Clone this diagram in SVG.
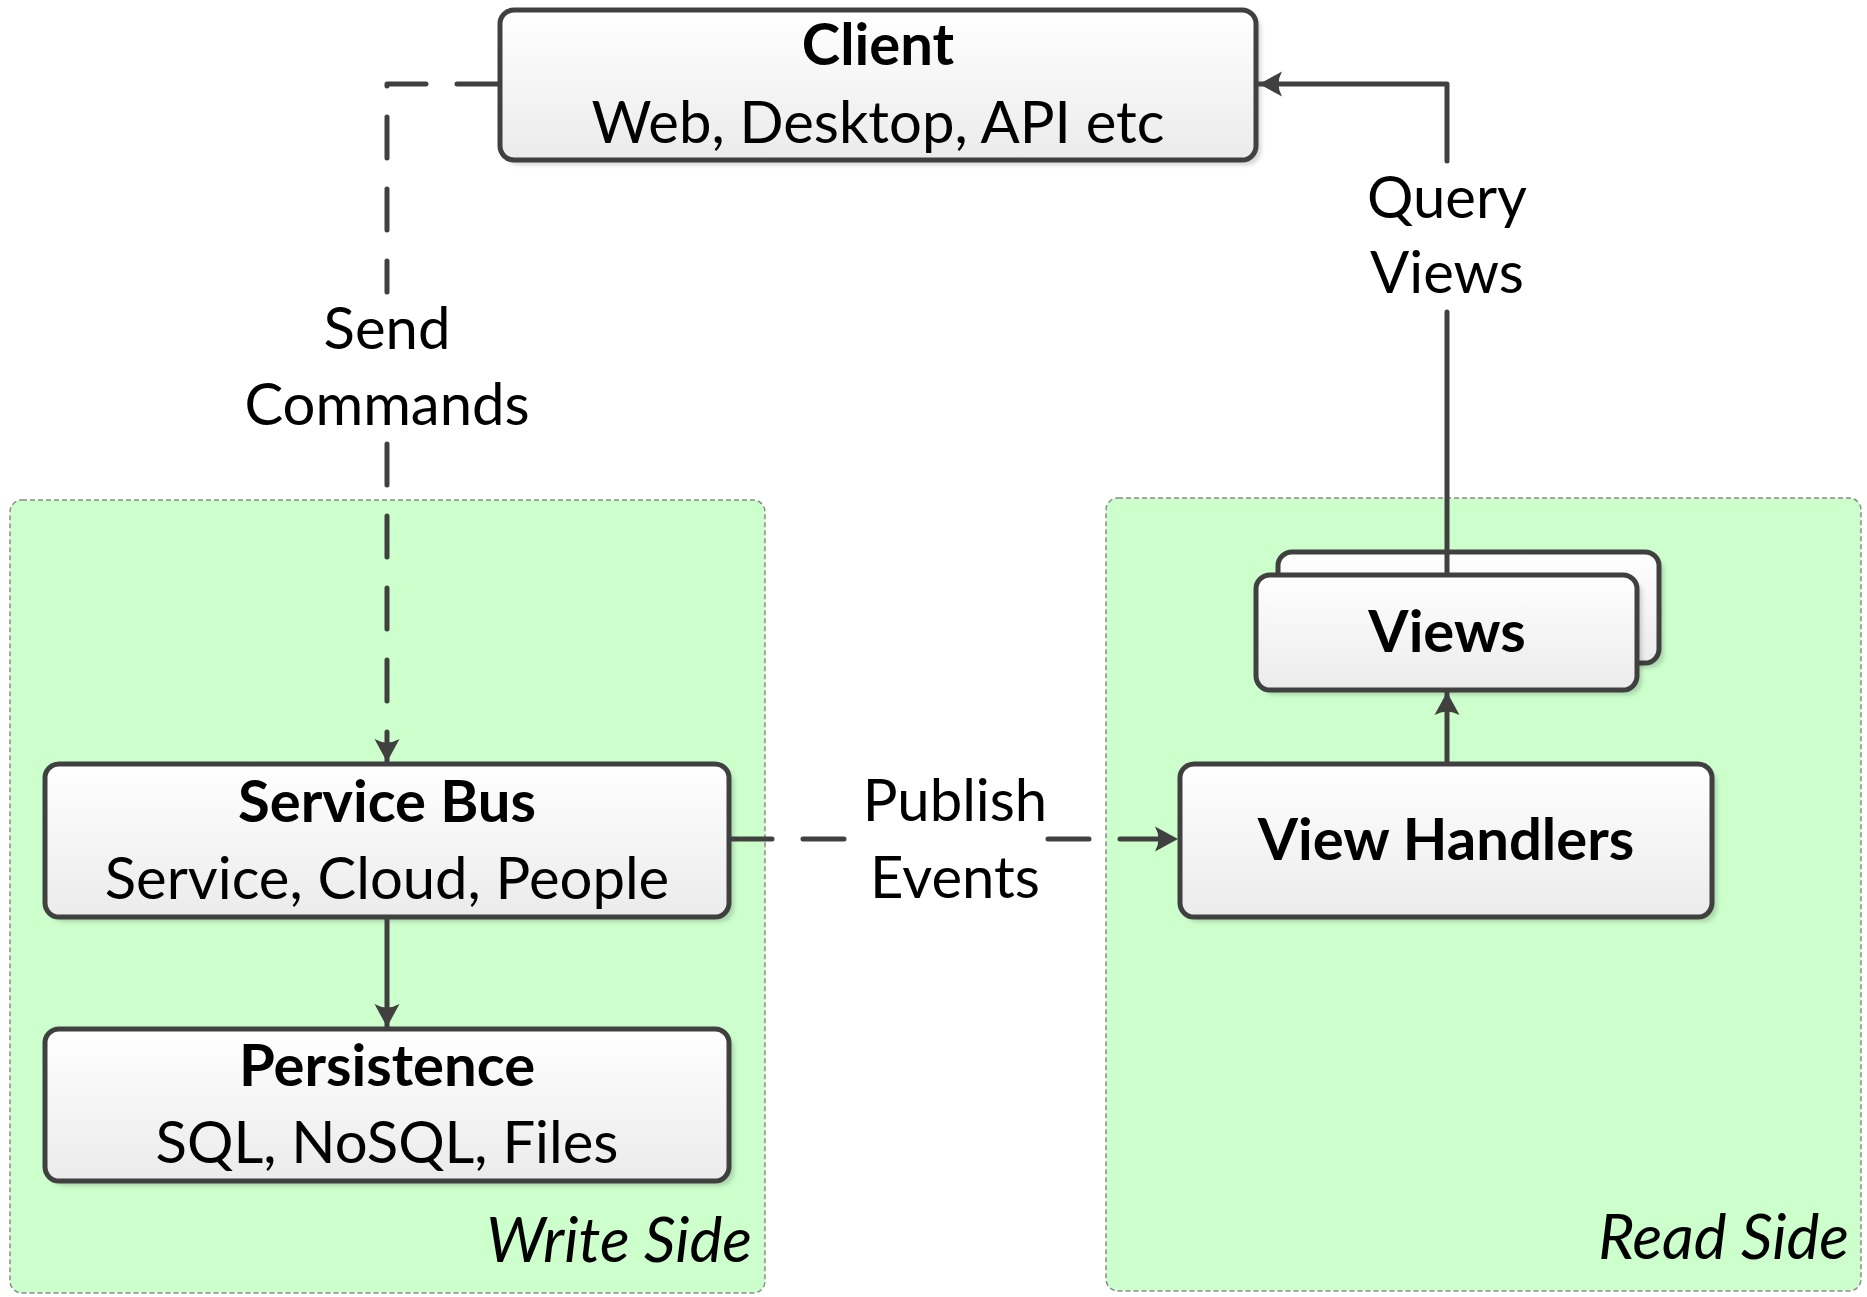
<svg xmlns="http://www.w3.org/2000/svg" width="1867" height="1297" viewBox="0 0 1867 1297">
<style>
.txt{font-family:Lato,"Open Sans","Liberation Sans",sans-serif;font-size:58px;fill:#000;text-anchor:middle}
.b{font-weight:bold}
.it{font-style:italic;text-anchor:end;font-size:62px}
.box{fill:url(#g);stroke:#404040;stroke-width:5}
.shadow{fill:#000;fill-opacity:0.16;filter:url(#blur)}
.area{fill:#ccffcc;stroke:#8a8a8a;stroke-width:1.5;stroke-dasharray:5 3}
.conn{fill:none;stroke:#404040;stroke-width:5;stroke-linecap:round;stroke-linejoin:round}
.dash{stroke-dasharray:41 31}
</style>
<defs>
<linearGradient id="g" x1="0" y1="0" x2="0" y2="1">
<stop offset="0" stop-color="#ffffff"/>
<stop offset="1" stop-color="#ebebeb"/>
</linearGradient>
<filter id="blur" x="-5%" y="-5%" width="110%" height="110%"><feGaussianBlur stdDeviation="2"/></filter>
<marker id="arr" viewBox="0 0 23 26" refX="23" refY="13" markerWidth="23" markerHeight="26" markerUnits="userSpaceOnUse" orient="auto">
<path d="M0,0.5 L23,13 L0,25.5 Q7,13 0,0.5 Z" fill="#404040"/>
</marker>
</defs>
<rect width="1867" height="1297" fill="#fff"/>

<g id="write-side">
<rect class="area" x="10" y="500" width="755" height="793" rx="12"/>
<text class="txt it" x="752" y="1262">Write Side</text>
</g>
<g id="read-side">
<rect class="area" x="1106" y="498" width="755" height="793" rx="12"/>
<text class="txt it" x="1849" y="1259">Read Side</text>
</g>

<g id="client">
<rect class="shadow" x="505" y="15" width="756" height="150" rx="14"/>
<rect class="box" x="500" y="10" width="756" height="150" rx="14"/>
<text class="txt b" x="878" y="65">Client</text>
<text class="txt" x="878" y="143">Web, Desktop, API etc</text>
</g>

<g id="service-bus">
<rect class="shadow" x="50" y="769" width="684" height="153" rx="14"/>
<rect class="box" x="45" y="764" width="684" height="153" rx="14"/>
<text class="txt b" x="387" y="822">Service Bus</text>
<text class="txt" x="387" y="899">Service, Cloud, People</text>
</g>

<g id="persistence">
<rect class="shadow" x="50" y="1034" width="684" height="152" rx="14"/>
<rect class="box" x="45" y="1029" width="684" height="152" rx="14"/>
<text class="txt b" x="387" y="1086">Persistence</text>
<text class="txt" x="387" y="1163">SQL, NoSQL, Files</text>
</g>

<g id="views">
<rect class="shadow" x="1283" y="557" width="381" height="111" rx="14"/>
<rect class="box" x="1278" y="552" width="381" height="111" rx="14"/>
<rect class="shadow" x="1261" y="580" width="381" height="115" rx="14"/>
<rect class="box" x="1256" y="575" width="381" height="115" rx="14"/>
<text class="txt b" x="1447" y="652">Views</text>
</g>

<g id="view-handlers">
<rect class="shadow" x="1185" y="769" width="532" height="153" rx="14"/>
<rect class="box" x="1180" y="764" width="532" height="153" rx="14"/>
<text class="txt b" x="1446" y="860">View Handlers</text>
</g>

<g id="connectors">
<path class="conn dash" d="M498,84 H387 V292 M387,444 V762" marker-end="url(#arr)"/>
<path class="conn" d="M1447,573 V312 M1447,161 V84 H1259" marker-end="url(#arr)"/>
<path class="conn" d="M1447,762 V692" marker-end="url(#arr)"/>
<path class="conn" d="M387,919 V1027" marker-end="url(#arr)"/>
<path class="conn dash" d="M731,839 H851 M1048,839 H1178" marker-end="url(#arr)"/>
<text class="txt" x="387" y="349">Send</text>
<text class="txt" x="387" y="425">Commands</text>
<text class="txt" x="1447" y="218">Query</text>
<text class="txt" x="1447" y="293">Views</text>
<text class="txt" x="955" y="821">Publish</text>
<text class="txt" x="955" y="898">Events</text>
</g>
</svg>
